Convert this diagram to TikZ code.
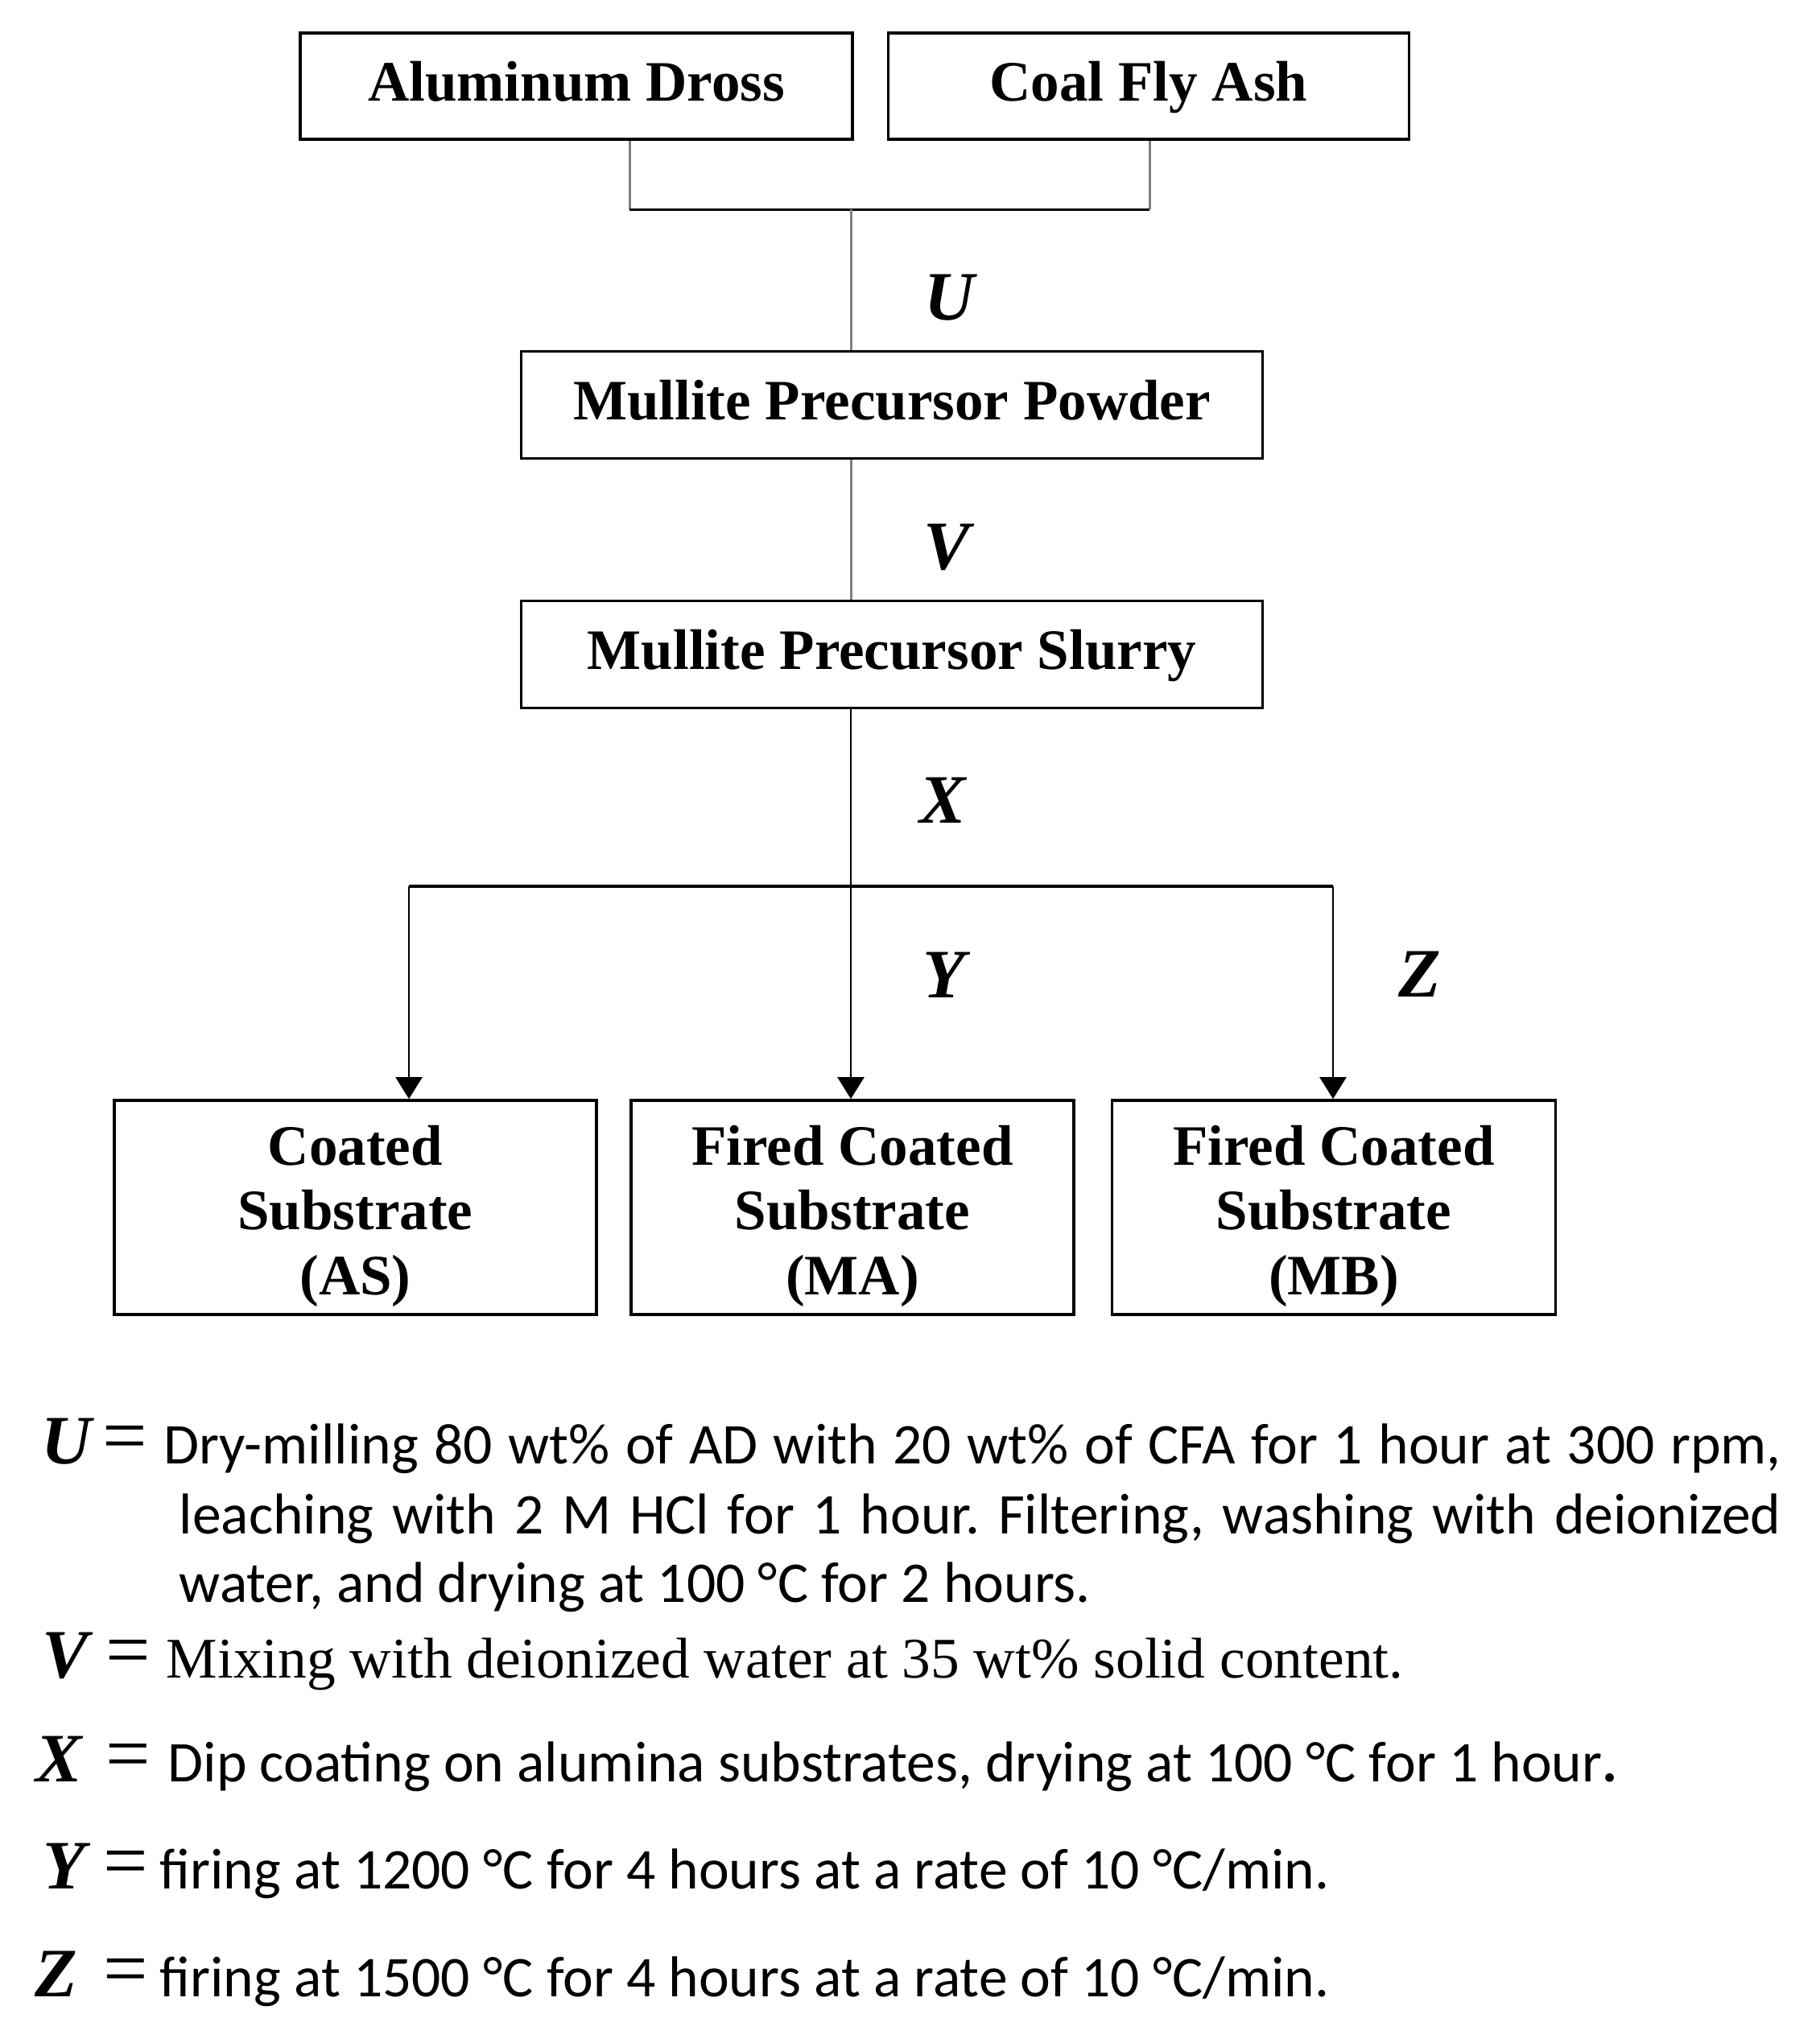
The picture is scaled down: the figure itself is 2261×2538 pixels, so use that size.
\documentclass[tikz,border=0pt]{standalone}
\usepackage{fontspec}
\setmainfont{Liberation Serif}
\newfontfamily\calfont{Carlito}
\usetikzlibrary{arrows.meta}
\definecolor{lgrey}{HTML}{7F7F7F}
\frenchspacing
\begin{document}
\begin{tikzpicture}[x=0.01cm,y=-0.01cm,
  procbox/.style={draw=black,line width=1pt,inner sep=0pt,align=center,
    font=\fontsize{20.2}{22.8}\selectfont\bfseries},
  onebox/.style={procbox,text height=0.5cm,text depth=0.14cm},
  steplabel/.style={anchor=base,inner sep=0pt,font=\fontsize{24.5}{28}\selectfont\bfseries\itshape},
  eqsign/.style={anchor=base,inner sep=0pt,font=\fontsize{28}{30}\selectfont},
  legtext/.style={anchor=base west,inner sep=0pt,font=\fontsize{20.35}{24}\selectfont\calfont},
  greyline/.style={draw=lgrey,line width=0.85pt},
  arrowline/.style={draw=black,line width=0.7pt,-{Triangle[width=9.4pt,length=7.7pt]}}
]
\useasboundingbox (0,0) rectangle (2261,2538);

% boxes
\node[onebox,minimum width=6.86cm,minimum height=1.32cm] (ad) at (716,107) {Aluminum Dross};
\node[onebox,minimum width=6.47cm,minimum height=1.32cm] (cfa) at (1427,107) {Coal Fly Ash};
\node[onebox,minimum width=9.20cm,minimum height=1.33cm] (mpp) at (1108,503) {Mullite Precursor Powder};
\node[onebox,minimum width=9.20cm,minimum height=1.33cm] (mps) at (1108,813) {Mullite Precursor Slurry};
\node[procbox,minimum width=5.99cm,minimum height=2.66cm] (as) at (441.5,1500) {\rule{0pt}{1em}Coated\\Substrate\\(AS)};
\node[procbox,minimum width=5.50cm,minimum height=2.66cm] (ma) at (1059,1500) {\rule{0pt}{1em}Fired Coated\\Substrate\\(MA)};
\node[procbox,minimum width=5.51cm,minimum height=2.66cm] (mb) at (1657,1500) {\rule{0pt}{1em}Fired Coated\\Substrate\\(MB)};

% junction coordinates
\coordinate (bl) at (782,260);
\coordinate (br) at (1428,260);
\coordinate (bm) at (1057,260);
\coordinate (hl) at (508,1101);
\coordinate (hm) at (1057,1101);
\coordinate (hr) at (1656,1101);

% connectors
\draw[greyline] (ad.south -| bl) -- (bl);
\draw[greyline] (cfa.south -| br) -- (br);
\draw[black,line width=0.85pt] (bl) -- (br);
\draw[greyline] (bm) -- (mpp.north -| bm);
\draw[greyline] (mpp.south -| bm) -- (mps.north -| bm);
\draw[arrowline] (mps.south -| hm) -- (ma.north -| hm);
\draw[black,line width=1.15pt] (hl) -- (hr);
\draw[arrowline] (hl) -- (as.north -| hl);
\draw[arrowline] (hr) -- (mb.north -| hr);

% step labels
\node[steplabel] (lu) at (1180,397) {U};
\node[steplabel] (lv) at (1176,707) {V};
\node[steplabel] (lx) at (1171,1022) {X};
\node[steplabel] (ly) at (1173,1239) {Y};
\node[steplabel] (lz) at (1764,1238) {Z};

% legend
\node[steplabel] (ku) at (83,1818) {U};
\node[eqsign] (eu) at (155,1816) {=};
\node[legtext] (tu1) at (203,1818) {\makebox[20.08cm][s]{Dry-milling 80 wt\% of AD with 20 wt\% of CFA for 1 hour at 300 rpm,}};
\node[legtext] (tu2) at (222,1905) {\makebox[19.89cm][s]{leaching with 2 M HCl for 1 hour. Filtering, washing with deionized}};
\node[legtext] (tu3) at (222,1990) {water, and drying at 100 °C for 2 hours.};

\node[steplabel] (kv) at (81,2084) {V};
\node[eqsign] (ev) at (159,2082) {=};
\node[anchor=base west,inner sep=0pt,font=\fontsize{20.3}{24}\selectfont] (tv) at (206,2084) {Mixing with deionized water at 35 wt\% solid content.};

\node[steplabel] (kx) at (73,2213) {X};
\node[eqsign] (ex) at (159,2211) {=};
\node[legtext] (tx) at (208,2213) {Dip coating on alumina substrates, drying at 100 °C for 1 hour\textbf{.}};

\node[steplabel] (ky) at (80,2346) {Y};
\node[eqsign] (ey) at (156,2344) {=};
\node[legtext] (ty) at (198,2346) {firing at 1200 °C for 4 hours at a rate of 10 °C/min.};

\node[steplabel] (kz) at (70,2480) {Z};
\node[eqsign] (ez) at (156,2478) {=};
\node[legtext] (tz) at (198,2480) {firing at 1500 °C for 4 hours at a rate of 10 °C/min.};
\end{tikzpicture}
\end{document}
